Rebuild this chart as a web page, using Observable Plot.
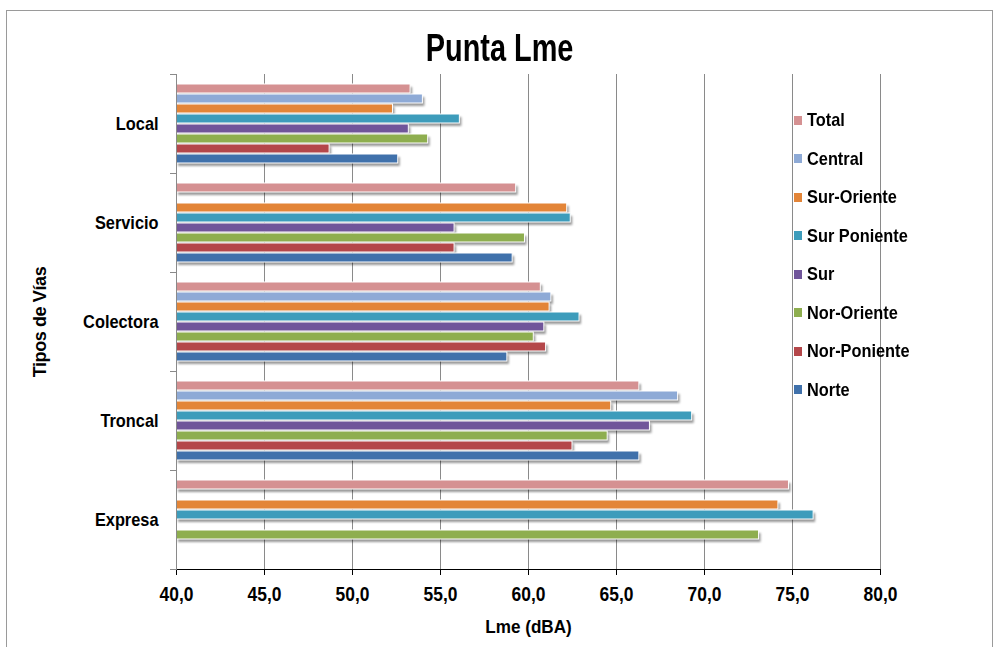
<!DOCTYPE html>
<html>
<head>
<meta charset="utf-8">
<script src="https://cdn.jsdelivr.net/npm/d3@7"></script>
<script src="https://cdn.jsdelivr.net/npm/@observablehq/plot@0.6"></script>
<style>
  body { margin: 0; background: #fff; }
  #wrap { position: relative; width: 999px; height: 647px; overflow: hidden;
    font-family: "Liberation Sans", Arial, sans-serif; font-weight: bold; color: #000; }
  #border { position: absolute; left: 6px; top: 10px; width: 987px; height: 660px; border: 1px solid #9a9a9a; box-sizing: border-box; }
  #chart { position: absolute; left: 0; top: 0; }
  #title { position: absolute; left: 0; width: 999px; top: 27px; text-align: center; font-size: 38px; line-height: 42px; transform: scaleX(0.76); transform-origin: 500px 0; }
  #ylabel { position: absolute; left: 40px; top: 322px; transform: translate(-50%, -50%) rotate(-90deg); font-size: 18px; white-space: nowrap; letter-spacing: -0.4px; }
  .item { position: absolute; left: 794px; height: 22px; display: flex; align-items: center; font-size: 19px; white-space: nowrap; }
  .sw { width: 8px; height: 9px; margin-right: 5px; flex: none; }
  .lt { display: inline-block; transform: scaleX(0.86); transform-origin: 0 50%; }
  svg text { font-family: "Liberation Sans", Arial, sans-serif; font-weight: bold; fill: #000; }
  g[aria-label="x-axis tick label"] { font-size: 20px; }
  g[aria-label="fy-axis tick label"] { font-size: 19px; }
  g[aria-label="x-axis label"] { font-size: 19px; }
  .shadow { filter: blur(1.3px); }
</style>
</head>
<body>
<div id="wrap">
  <div id="border"></div>
  <div id="chart"></div>
  <div id="title">Punta Lme</div>
  <div id="ylabel">Tipos de Vías</div>
</div>
<script>
// Categories (top to bottom)
const categories = ["Local", "Servicio", "Colectora", "Troncal", "Expresa"];
// Series (legend order bottom to top)
const seriesNames = ["Norte", "Nor-Poniente", "Nor-Oriente", "Sur", "Sur Poniente", "Sur-Oriente", "Central", "Total"];
const seriesColors = ["#4071ab", "#b4474a", "#8eae4f", "#70559a", "#3d9cbb", "#e38538", "#8eaad6", "#d59192"];
// Values per series, in category order (null = no bar)
const norte       = [52.6, 59.1, 58.8, 66.3, null];
const norPoniente = [48.7, 55.8, 61.0, 62.5, null];
const norOriente  = [54.3, 59.8, 60.3, 64.5, 73.1];
const sur         = [53.2, 55.8, 60.9, 66.9, null];
const surPoniente = [56.1, 62.4, 62.9, 69.3, 76.2];
const surOriente  = [52.3, 62.2, 61.2, 64.7, 74.2];
const central     = [54.0, null, 61.3, 68.5, null];
const total       = [53.3, 59.3, 60.7, 66.3, 74.8];
// X axis tick values
const xTicks = [40, 45, 50, 55, 60, 65, 70, 75, 80];

const seriesValues = [norte, norPoniente, norOriente, sur, surPoniente, surOriente, central, total];
const xMin = xTicks[0];
const data = [];
categories.forEach((c, ci) => {
  seriesNames.forEach((s, si) => {
    const v = seriesValues[si][ci];
    if (v != null) data.push({cat: c, serie: s, value: v});
  });
});
const yOrder = seriesNames.slice().reverse();
const fmt = d => d.toFixed(1).replace(".", ",");
const gridColor = "#8a8a8a";

const plot = Plot.plot({
  width: 999,
  height: 647,
  marginTop: 73,
  marginBottom: 77,
  marginLeft: 176,
  marginRight: 119,
  style: {background: "transparent", overflow: "visible"},
  x: {domain: [xTicks[0], xTicks[xTicks.length - 1]], ticks: xTicks, tickFormat: fmt, tickSize: 6, tickPadding: 11,
      line: true, label: "Lme (dBA)", labelAnchor: "center", labelOffset: 63, labelArrow: "none"},
  y: {domain: yOrder, paddingInner: 0.07, paddingOuter: 0.75, axis: null},
  fy: {domain: categories, padding: 0, axis: "left", label: null, tickSize: 0, tickPadding: 18},
  color: {domain: seriesNames, range: seriesColors},
  marks: [
    Plot.ruleX(xTicks.slice(1), {stroke: gridColor, strokeWidth: 1}),
    Plot.barX(data, {fy: "cat", y: "serie", x1: xMin, x2: "value", fill: "#000", fillOpacity: 0.4, dx: 2, dy: 3, className: "shadow"}),
    Plot.barX(data, {fy: "cat", y: "serie", x1: xMin, x2: "value", fill: "serie", stroke: "#fff", strokeWidth: 1}),
    Plot.ruleX([xMin], {stroke: gridColor, strokeWidth: 1}),
    Plot.frame({anchor: "top", stroke: gridColor, insetLeft: -6, insetRight: 704}),
    Plot.frame({anchor: "bottom", stroke: gridColor, insetLeft: -6, insetRight: 704})
  ]
});
plot.querySelectorAll('[aria-label="x-axis tick"], [aria-label="x-axis line"]').forEach(g => g.setAttribute("stroke", gridColor));
document.getElementById("chart").appendChild(plot);

// Condense axis texts horizontally (narrow bold look)
function condense(selector, scale) {
  plot.querySelectorAll(selector).forEach(t => {
    const L = t.getComputedTextLength();
    t.setAttribute("textLength", (L * scale).toFixed(1));
    t.setAttribute("lengthAdjust", "spacingAndGlyphs");
  });
}
condense('g[aria-label="x-axis tick label"] text', 0.87);
condense('g[aria-label="fy-axis tick label"] text', 0.86);
condense('g[aria-label="x-axis label"] text', 0.9);

// Legend (top: Total, bottom: Norte)
const wrap = document.getElementById("wrap");
yOrder.forEach((s, i) => {
  const item = document.createElement("div");
  item.className = "item";
  item.style.top = (109 + i * 38.5) + "px";
  const sw = document.createElement("span");
  sw.className = "sw";
  sw.style.background = seriesColors[seriesNames.indexOf(s)];
  const t = document.createElement("span");
  t.className = "lt";
  t.textContent = s;
  item.appendChild(sw);
  item.appendChild(t);
  wrap.appendChild(item);
});
</script>
</body>
</html>
